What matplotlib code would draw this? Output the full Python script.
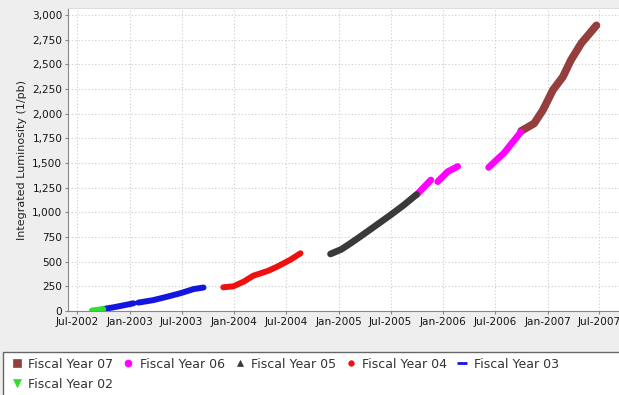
import matplotlib.pyplot as plt
import matplotlib.dates as mdates
from matplotlib.lines import Line2D
from matplotlib.patches import Rectangle
import numpy as np

# integrated luminosity by fiscal year (1/pb); None breaks a run
fy02_dates = ["2002-08-22", "2002-09-05", "2002-09-30"]
fy02_lumi = [5, 10, 20]

fy03_dates = ["2002-10-01", "2002-11-10", "2002-12-15", "2003-01-14", None,
              "2003-01-31", "2003-03-24", "2003-05-12", "2003-06-27",
              "2003-08-12", "2003-09-16"]
fy03_lumi = [20, 40, 60, 78, None, 85, 110, 145, 180, 222, 238]

fy04_dates = ["2003-11-24", "2003-12-29", "2004-02-05", "2004-03-08",
              "2004-04-01", "2004-05-01", "2004-05-31", "2004-07-16",
              "2004-08-20"]
fy04_lumi = [240, 250, 300, 358, 380, 410, 450, 520, 585]

fy05_dates = ["2004-12-03", "2005-01-10", "2005-02-11", "2005-03-15",
              "2005-04-23", "2005-07-02", "2005-08-17", "2005-09-30"]
fy05_lumi = [578, 625, 686, 750, 830, 975, 1075, 1180]

fy06_dates = ["2005-10-01", "2005-11-19", None, "2005-12-13", "2006-01-17",
              "2006-02-21", None, "2006-06-09", "2006-07-10", "2006-08-01",
              "2006-09-30"]
fy06_lumi = [1180, 1328, None, 1311, 1412, 1465, None, 1455, 1540, 1598, 1815]

fy07_dates = ["2006-10-01", "2006-11-15", "2006-12-16", "2007-01-20",
              "2007-02-24", "2007-03-24", "2007-04-29", "2007-06-21"]
fy07_lumi = [1825, 1900, 2037, 2240, 2375, 2544, 2713, 2895]

series = [
    ("Fiscal Year 07", fy07_dates, fy07_lumi, "#943e3e", "s", 6, 5.6),
    ("Fiscal Year 06", fy06_dates, fy06_lumi, "#ff00ff", "o", 5, 4.8),
    ("Fiscal Year 05", fy05_dates, fy05_lumi, "#3a3a3a", "^", 5, 4.8),
    ("Fiscal Year 04", fy04_dates, fy04_lumi, "#f01010", "o", 4, 4.3),
    ("Fiscal Year 03", fy03_dates, fy03_lumi, "#1515e0", "_", 7, 4.3),
    ("Fiscal Year 02", fy02_dates, fy02_lumi, "#30dd30", "v", 6, 4.3),
]


def to_num(dates, vals):
    x = np.array([np.nan if d is None else mdates.datestr2num(d) for d in dates])
    y = np.array([np.nan if v is None else v for v in vals], dtype=float)
    return x, y


fig = plt.figure(figsize=(6.19, 3.95), dpi=100, facecolor="#eeeeee")
ax = fig.add_axes([68 / 619, 1 - 311 / 395, 551 / 619, 303 / 395])
ax.set_facecolor("white")

handles = {}
for name, d, v, col, mk, ms, lw in series:
    x, y = to_num(d, v)
    ax.plot(x, y, color=col, lw=lw, solid_capstyle="round",
            solid_joinstyle="round", zorder=3)
    handles[name] = Line2D([], [], color=col, marker=mk, ls="none",
                           markersize=ms, markeredgewidth=2 if mk == "_" else 0.5)

ax.set_xlim(mdates.datestr2num("2002-05-30"), mdates.datestr2num("2007-09-08"))
ax.set_ylim(0, 3071)

ticks = ["2002-07-01", "2003-01-01", "2003-07-01", "2004-01-01", "2004-07-01",
         "2005-01-01", "2005-07-01", "2006-01-01", "2006-07-01", "2007-01-01",
         "2007-07-01"]
ax.set_xticks([mdates.datestr2num(t) for t in ticks])
ax.xaxis.set_major_formatter(mdates.DateFormatter("%b-%Y"))
ax.set_yticks(range(0, 3001, 250))
ax.set_yticklabels([f"{v:,}" for v in range(0, 3001, 250)])

ax.tick_params(labelsize=7.6, colors="#888888", labelcolor="#151515",
               length=2, width=0.8, pad=2)
ax.grid(True, color="#cccccc", ls=(0, (1, 2)), lw=0.8)
ax.set_axisbelow(True)
for side in ("left", "bottom"):
    ax.spines[side].set_color("#888888")
ax.spines["top"].set_color("#dddddd")
ax.spines["right"].set_visible(False)

ax.set_ylabel("Integrated Luminosity (1/pb)", fontsize=8, color="#222222",
              labelpad=4)

# legend strip at the bottom
fig.patches.append(Rectangle((3 / 619, -0.01), 0.999, (395 - 352) / 395 + 0.01,
                             transform=fig.transFigure, facecolor="white",
                             edgecolor="#666666", lw=1.0))
order = ["Fiscal Year 07", "Fiscal Year 02", "Fiscal Year 06",
         "Fiscal Year 05", "Fiscal Year 04", "Fiscal Year 03"]
fig.legend([handles[n] for n in order], order, ncol=5, frameon=False,
           loc="upper left", bbox_to_anchor=(2 / 619, 1 - 349 / 395),
           fontsize=9, handlelength=1.0, handletextpad=0.4,
           columnspacing=0.7, labelspacing=0.55, borderpad=0.2,
           labelcolor="#333333")

fig.savefig("out.png", dpi=100, facecolor=fig.get_facecolor())
